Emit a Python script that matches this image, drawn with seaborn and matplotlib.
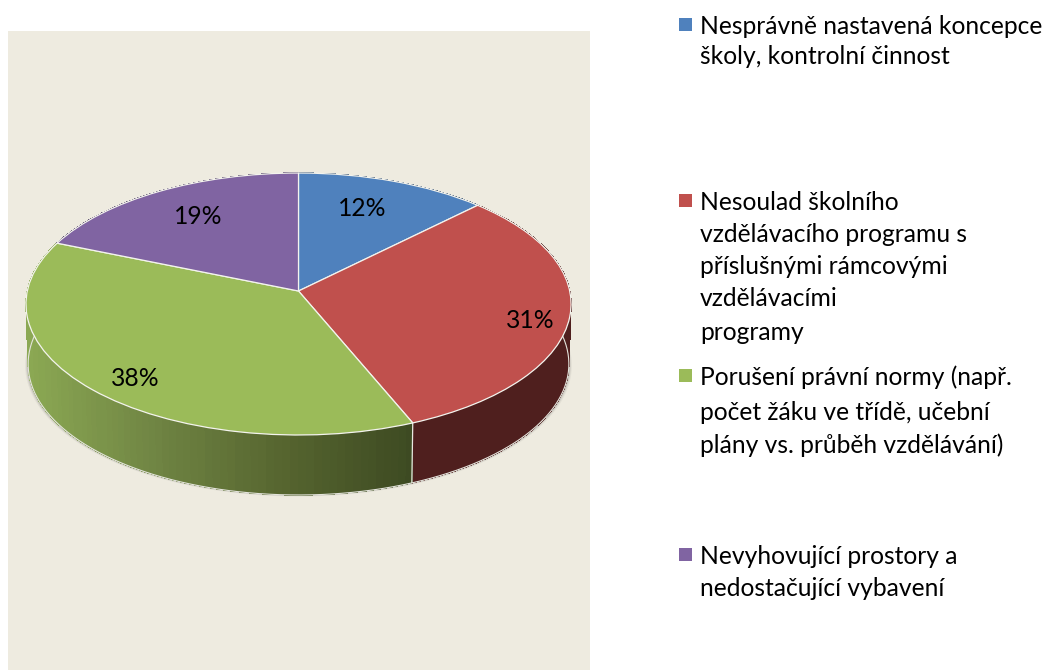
import numpy as np
import matplotlib
matplotlib.use('Agg')
import matplotlib.pyplot as plt
from matplotlib.patches import Rectangle
from matplotlib.transforms import Transform
import seaborn as sns

# Data
slice_values = [2, 5, 6, 3]
slice_labels = ['12%', '31%', '38%', '19%']
slice_colors = ['#4F81BD', '#C0504D', '#9BBB59', '#8064A2']
legend_lines = [
    ['Nesprávně nastavená koncepce', 'školy, kontrolní činnost'],
    ['Nesoulad školního', 'vzdělávacího programu s', 'příslušnými rámcovými', 'vzdělávacími', 'programy'],
    ['Porušení právní normy (např.', 'počet žáku ve třídě, učební', 'plány vs. průběh vzdělávání)'],
    ['Nevyhovující prostory a', 'nedostačující vybavení'],
]

# Layout in pixels
label_pos = [(362, 208), (530, 320), (135, 379), (198, 216)]
legend_y = [
    [26, 57],
    [202, 234, 266, 299, 333],
    [377, 413, 445],
    [556, 589],
]
CX, CY = 298.5, 291
A, B, K = 271.2, 129.7, 0.0992
DEPTH = 60

sns.set_theme(style='white')
plt.rcParams['font.family'] = ['Lato', 'DejaVu Sans']


class Perspective(Transform):
    # tilted pie: unit circle to screen pixels
    input_dims = output_dims = 2

    def transform_non_affine(self, values):
        v = np.asarray(values, dtype=float)
        w = 1 + K * v[:, 1]
        return np.column_stack([CX + A * v[:, 0] / w, CY - B * v[:, 1] / w])


persp = Perspective()


def rim(theta):
    return persp.transform_non_affine(np.column_stack([np.sin(theta), np.cos(theta)]))


def lower(pts):
    out = pts.copy()
    out[:, 0] = CX + (out[:, 0] - CX) * 0.992
    out[:, 1] = out[:, 1] + DEPTH
    return out


fig = plt.figure(figsize=(10.44, 6.7), dpi=100, facecolor='white')
ax = fig.add_axes([0, 0, 1, 1])

wedges, _ = ax.pie(slice_values, colors=sns.color_palette(slice_colors), startangle=90,
                   counterclock=False, wedgeprops={'edgecolor': '#F4F4EE', 'linewidth': 0.9})
for w in wedges:
    w.set_transform(persp + ax.transData)
    w.set_zorder(5)

ax.set_aspect('auto')
ax.set_xlim(0, 1044)
ax.set_ylim(670, 0)
ax.axis('off')
ax.add_patch(Rectangle((8, 31), 582, 639, facecolor='#EEEBE0', edgecolor='none', zorder=0))

# soft shadow round the wall
all_theta = np.linspace(0, 2 * np.pi, 360)
base = lower(rim(all_theta))
for grow, alpha in [(3.0, 0.07), (2.0, 0.12), (1.0, 0.2)]:
    sh = base.copy()
    sh[:, 0] = CX + (sh[:, 0] - CX) * (1 + grow / 272)
    sh[:, 1] = sh[:, 1] + grow * 0.5
    ax.fill(sh[:, 0], sh[:, 1], color='#555555', alpha=alpha, lw=0, zorder=1)

# side wall, one thin strip after another
wall_ramps = [
    sns.blend_palette(['#2F4A6B', '#2F4A6B'], 2),
    sns.blend_palette(['#4F1F1E', '#4F1F1E'], 2),
    sns.blend_palette(['#8BA853', '#6F8443', '#56652F', '#3D4A22'], 64),
    sns.blend_palette(['#4A3A60', '#4A3A60'], 2),
]
edges = np.concatenate([[0], np.cumsum(slice_values)]) / np.sum(slice_values) * 2 * np.pi
for i, ramp in enumerate(wall_ramps):
    th = np.linspace(edges[i], edges[i + 1], 90)
    up = rim(th)
    lo = lower(up)
    xr = up[:, 0]
    for j in range(len(th) - 1):
        f = (xr[j] - xr.min()) / (xr.max() - xr.min())
        c = ramp[int(f * (len(ramp) - 1))]
        ax.fill([up[j, 0], up[j + 1, 0], lo[j + 1, 0], lo[j, 0]],
                [up[j, 1], up[j + 1, 1], lo[j + 1, 1], lo[j, 1]],
                facecolor=c, edgecolor=c, lw=0.3, antialiased=False, zorder=2)
    # slice seam on the wall
    ax.plot([up[0, 0], lo[0, 0]], [up[0, 1], lo[0, 1]], color='#E8E8E0', lw=0.9, zorder=3)

ax.plot(base[:, 0], base[:, 1], color='#E4E4DC', lw=0.8, zorder=3)

for txt, (x, y) in zip(slice_labels, label_pos):
    ax.text(x, y, txt, ha='center', va='center', fontsize=17.7, color='black', zorder=6)

# legend
for color, lines, ys in zip(slice_colors, legend_lines, legend_y):
    ax.add_patch(Rectangle((679, ys[0] - 8.5), 13, 13, facecolor=color, edgecolor='none', zorder=3))
    for line, y in zip(lines, ys):
        ax.text(700, y, line, ha='left', va='center', fontsize=17.7, color='black', zorder=6)

fig.savefig('out.png', dpi=100)
